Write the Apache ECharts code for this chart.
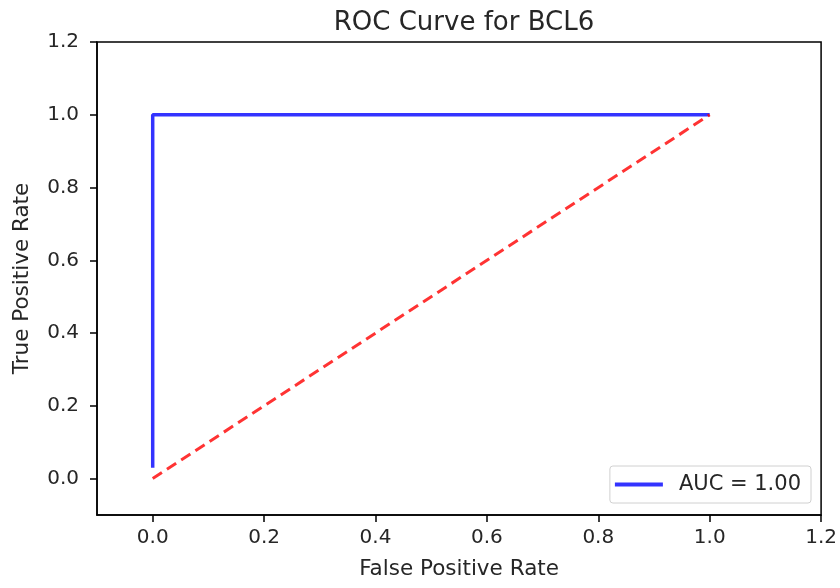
<!DOCTYPE html>
<html>
<head>
<meta charset="utf-8">
<script src="https://cdn.jsdelivr.net/npm/echarts@6/dist/echarts.min.js"></script>
<style>
  html, body { margin: 0; padding: 0; background: #fff; }
  #chart { width: 840px; height: 588px; }
</style>
</head>
<body>
<div id="chart"></div>
<script>
// roc points
const fpr = [0, 0, 1];
const tpr = [0.03, 1, 1];
const chanceX = [0, 1];
const chanceY = [0, 1];
const tickValues = [0, 0.2, 0.4, 0.6, 0.8, 1.0, 1.2];
const tickLabels = ['0.0', '0.2', '0.4', '0.6', '0.8', '1.0', '1.2'];

const font = 'DejaVu Sans';
const zip = (xs, ys) => xs.map((x, i) => [x, ys[i]]);
const fmt = v => tickLabels[tickValues.findIndex(t => Math.abs(t - v) < 1e-9)] || '';

var myChart = echarts.init(document.getElementById('chart'));
const axisCommon = {
    type: 'value',
    min: -0.1,
    max: 1.2,
    splitLine: { show: false },
    axisLine: { show: true, onZero: false, lineStyle: { color: '#000', width: 1.5 } },
    axisTick: { show: true, inside: false, length: 7, customValues: tickValues, lineStyle: { color: '#000', width: 1.5 } },
    axisLabel: { customValues: tickValues, formatter: fmt, color: '#262626', fontFamily: font, fontSize: 20 },
    nameLocation: 'middle',
    nameTextStyle: { color: '#262626', fontFamily: font, fontSize: 21.5 }
};
const option = {
    animation: false,
    title: {
        text: 'ROC Curve for BCL6',
        left: 459, top: 5,
        textAlign: 'center',
        textStyle: { color: '#262626', fontFamily: font, fontSize: 26, fontWeight: 'normal' }
    },
    grid: { left: 97, right: 18, top: 42, bottom: 73, show: true, borderColor: '#000', borderWidth: 1.5 },
    xAxis: Object.assign({}, axisCommon, {
        name: 'False Positive Rate', nameGap: 43,
        axisLabel: Object.assign({}, axisCommon.axisLabel, { margin: 13 })
    }),
    yAxis: Object.assign({}, axisCommon, {
        name: 'True Positive Rate', nameGap: 64,
        axisLabel: Object.assign({}, axisCommon.axisLabel, { margin: 18 })
    }),
    legend: {
        data: ['AUC = 1.00'],
        right: 29, bottom: 85,
        orient: 'vertical',
        itemWidth: 48, itemHeight: 4, itemGap: 8,
        padding: [8, 10, 8, 5],
        borderColor: '#d0d0d0', borderWidth: 1, borderRadius: 3,
        textStyle: { color: '#262626', fontFamily: font, fontSize: 21, padding: [0, 0, 0, 11] },
        icon: 'rect'
    },
    series: [
        {
            name: 'AUC = 1.00',
            type: 'line',
            data: zip(fpr, tpr),
            symbol: 'none',
            lineStyle: { color: 'rgba(0,0,255,0.8)', width: 3.5 },
            itemStyle: { color: 'rgba(0,0,255,0.8)' }
        },
        {
            name: 'chance',
            type: 'line',
            data: zip(chanceX, chanceY),
            symbol: 'none',
            lineStyle: { color: 'rgba(255,0,0,0.8)', width: 3, type: [11, 6] }
        }
    ]
};
myChart.setOption(option);
</script>
</body>
</html>
